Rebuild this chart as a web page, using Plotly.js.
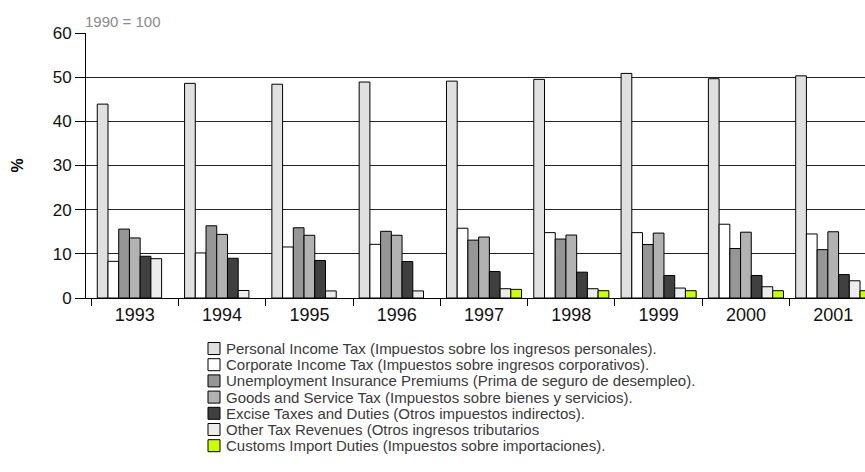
<!DOCTYPE html>
<html>
<head>
<meta charset="utf-8">
<script src="https://cdn.plot.ly/plotly-3.0.1.min.js"></script>
<style>html,body{margin:0;padding:0;background:#fff;}#chart{width:865px;height:472px;}</style>
</head>
<body>
<div id="chart"></div>
<script>
const years = ['1993', '1994', '1995', '1996', '1997', '1998', '1999', '2000', '2001'];
const personal = [43.9, 48.6, 48.4, 48.9, 49.1, 49.5, 50.85, 49.65, 50.3];
const corporate = [8.3, 10.2, 11.55, 12.15, 15.8, 14.8, 14.8, 16.7, 14.5];
const unemployment = [15.6, 16.35, 15.9, 15.1, 13.1, 13.35, 12.1, 11.2, 10.95];
const goods = [13.6, 14.4, 14.2, 14.2, 13.8, 14.25, 14.7, 14.9, 15.0];
const excise = [9.45, 9.0, 8.5, 8.25, 6.0, 5.85, 5.1, 5.1, 5.3];
const other = [8.9, 1.7, 1.6, 1.6, 2.1, 2.1, 2.25, 2.55, 3.9];
const customs = [null, null, null, null, 1.95, 1.65, 1.65, 1.65, 1.65];

const seriesNames = [
  'Personal Income Tax (Impuestos sobre los ingresos personales).',
  'Corporate Income Tax (Impuestos sobre ingresos corporativos).',
  'Unemployment Insurance Premiums (Prima de seguro de desempleo).',
  'Goods and Service Tax (Impuestos sobre bienes y servicios).',
  'Excise Taxes and Duties (Otros impuestos indirectos).',
  'Other Tax Revenues (Otros ingresos tributarios',
  'Customs Import Duties (Impuestos sobre importaciones).'
];
const seriesValues = [personal, corporate, unemployment, goods, excise, other, customs];
const seriesColors = ['#e0e0e0', '#ffffff', '#969696', '#b2b2b2', '#404040', '#ececec', '#ccff00'];
const yTicks = [0, 10, 20, 30, 40, 50, 60];
const note = '1990 = 100';
const yTitle = '%';

const FONT = '"Liberation Sans", Arial, Helvetica, sans-serif';

const traces = seriesValues.map((vals, i) => ({
  type: 'bar',
  name: seriesNames[i],
  x: years,
  y: vals,
  marker: {color: seriesColors[i], line: {color: '#000', width: 1}},
  showlegend: false,
  hoverinfo: 'y'
}));

// Plot geometry (pixels) used to place the hand-built legend in paper coords
const W = 865, H = 472, mL = 86, mR = 0, mT = 33, mB = 174;
const pw = W - mL - mR, ph = H - mT - mB;
const px2x = p => (p - mL) / pw;
const py2y = p => (H - mB - p) / ph;

const shapes = [];
const annotations = [];
seriesNames.forEach((name, i) => {
  const cy = 348.5 + i * 16.2;
  shapes.push({
    type: 'rect', xref: 'paper', yref: 'paper',
    x0: px2x(208), x1: px2x(220), y0: py2y(cy - 6), y1: py2y(cy + 6),
    fillcolor: seriesColors[i], line: {color: '#000', width: 1}
  });
  annotations.push({
    xref: 'paper', yref: 'paper', x: px2x(224), y: py2y(cy),
    xanchor: 'left', yanchor: 'middle', showarrow: false,
    text: name, font: {family: FONT, size: 15, color: '#3a3a3a'}
  });
});
annotations.push({
  xref: 'paper', yref: 'paper', x: px2x(83), y: py2y(21),
  xanchor: 'left', yanchor: 'middle', showarrow: false,
  text: note, font: {family: FONT, size: 15, color: '#8a8a8a'}
});

const layout = {
  width: W, height: H,
  margin: {l: mL, r: mR, t: mT, b: mB, pad: 0},
  paper_bgcolor: '#fff', plot_bgcolor: '#fff',
  font: {family: FONT, color: '#000'},
  barmode: 'group',
  bargap: 0.14,
  bargroupgap: 0,
  showlegend: false,
  xaxis: {
    type: 'category',
    range: [-0.559, 8.364],
    tickson: 'boundaries',
    ticks: 'outside', ticklen: 7, tickcolor: '#000', tickwidth: 1,
    showline: true, linecolor: '#000', linewidth: 1,
    showgrid: false, zeroline: false,
    tickfont: {family: FONT, size: 18, color: '#111'}
  },
  yaxis: {
    range: [0, 60],
    tickvals: yTicks,
    ticks: 'outside', ticklen: 10, tickcolor: '#000', tickwidth: 1,
    showline: true, linecolor: '#000', linewidth: 1,
    showgrid: true, gridcolor: '#222', gridwidth: 1,
    zeroline: false,
    tickfont: {family: FONT, size: 17, color: '#111'},
    title: {text: yTitle, font: {family: FONT, size: 16, color: '#000', weight: 'bold'}, standoff: 25}
  },
  shapes: shapes,
  annotations: annotations
};

Plotly.newPlot('chart', traces, layout, {displayModeBar: false, staticPlot: true});
</script>
</body>
</html>
